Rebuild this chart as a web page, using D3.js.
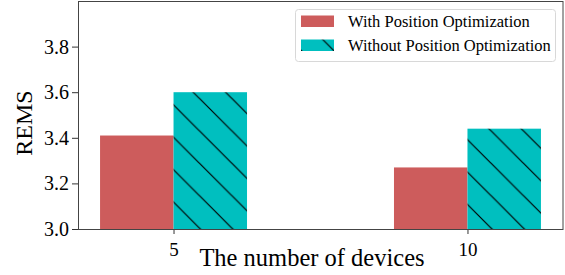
<!DOCTYPE html>
<html>
<head>
<meta charset="utf-8">
<script src="https://cdn.jsdelivr.net/npm/d3@7"></script>
<style>
    body { margin: 0; background: #fff; }
    svg text { font-family: 'Liberation Serif', 'Times New Roman', serif; fill: #000; }
</style>
</head>
<body>
<div id="wrapper"></div>
<script>
const categories = ["5", "10"];
const seriesNames = ["With Position Optimization", "Without Position Optimization"];
const withOpt = [3.41, 3.27];
const withoutOpt = [3.60, 3.44];
const yTicks = [3.0, 3.2, 3.4, 3.6, 3.8];

function drawBarChart() {
    const dimensions = {
        width: 565,
        height: 275,
        margin: { top: 1, right: 2, bottom: 46, left: 78 }
    };
    dimensions.boundedWidth = dimensions.width - dimensions.margin.left - dimensions.margin.right;
    dimensions.boundedHeight = dimensions.height - dimensions.margin.top - dimensions.margin.bottom;

    const wrapper = d3.select("#wrapper")
        .append("svg")
        .attr("width", dimensions.width)
        .attr("height", dimensions.height);

    // hatch "\" pattern, anchored to page coords like matplotlib
    const P = 32.4;
    const pat = wrapper.append("defs").append("pattern")
        .attr("id", "hatch")
        .attr("patternUnits", "userSpaceOnUse")
        .attr("x", 24)
        .attr("y", 0)
        .attr("width", P)
        .attr("height", P);
    pat.append("rect").attr("width", P).attr("height", P).attr("fill", "#00bfbf");
    pat.append("path")
        .attr("d", `M-2,-2 L${P + 2},${P + 2} M${P - 2},-2 L${P + 2},2 M-2,${P - 2} L2,${P + 2}`)
        .attr("stroke", "#000")
        .attr("stroke-width", 1.2);

    const bounds = wrapper.append("g")
        .attr("transform", `translate(${dimensions.margin.left},${dimensions.margin.top})`);

    const barW = 0.25;
    const xScale = d3.scaleLinear()
        .domain([-0.325, 1.325])
        .range([0, dimensions.boundedWidth]);
    const yScale = d3.scaleLinear()
        .domain([3.0, 4.0])
        .range([dimensions.boundedHeight, 0]);

    const series = [
        { name: seriesNames[0], values: withOpt, offset: -barW, fill: "#cd5c5c" },
        { name: seriesNames[1], values: withoutOpt, offset: 0, fill: "url(#hatch)" }
    ];

    series.forEach(s => {
        bounds.selectAll(null)
            .data(s.values)
            .join("rect")
            .attr("x", (d, i) => xScale(i + s.offset))
            .attr("width", xScale(barW) - xScale(0))
            .attr("y", d => yScale(d))
            .attr("height", d => yScale(3.0) - yScale(d))
            .attr("fill", s.fill);
    });

    // axes
    const yAxis = d3.axisLeft(yScale)
        .tickValues(yTicks)
        .tickFormat(d3.format(".1f"))
        .tickSize(6)
        .tickPadding(3);
    const yG = bounds.append("g").call(yAxis)
        .attr("font-family", "Liberation Serif")
        .attr("font-size", 20);
    yG.select(".domain").remove();
    yG.selectAll("line").attr("stroke", "#333");

    const xAxis = d3.axisBottom(xScale)
        .tickValues([0, 1])
        .tickFormat((d, i) => categories[i])
        .tickSize(5)
        .tickPadding(9);
    const xG = bounds.append("g")
        .attr("transform", `translate(0,${dimensions.boundedHeight})`)
        .call(xAxis)
        .attr("font-family", "Liberation Serif")
        .attr("font-size", 19);
    xG.select(".domain").remove();
    xG.selectAll("line").attr("stroke", "#333");

    // frame
    bounds.append("rect")
        .attr("x", 0.5)
        .attr("y", 0.5)
        .attr("width", dimensions.boundedWidth - 0.5)
        .attr("height", dimensions.boundedHeight)
        .attr("fill", "none")
        .attr("stroke", "#444")
        .attr("stroke-width", 1);

    // axis labels
    wrapper.append("text")
        .attr("x", 312)
        .attr("y", 266)
        .attr("text-anchor", "middle")
        .attr("font-size", 24.5)
        .text("The number of devices");

    wrapper.append("text")
        .attr("transform", "translate(32,123) rotate(-90)")
        .attr("text-anchor", "middle")
        .attr("font-size", 24)
        .text("REMS");

    // legend
    const legend = wrapper.append("g");
    legend.append("rect")
        .attr("x", 295.5)
        .attr("y", 9.5)
        .attr("width", 260)
        .attr("height", 52)
        .attr("rx", 3)
        .attr("fill", "#fff")
        .attr("stroke", "#d8d8d8");
    series.forEach((s, i) => {
        legend.append("rect")
            .attr("x", 301)
            .attr("y", 15.5 + i * 24)
            .attr("width", 33)
            .attr("height", 11.5)
            .attr("fill", s.fill);
        legend.append("text")
            .attr("x", 348)
            .attr("y", 27 + i * 24)
            .attr("font-size", 16.5)
            .text(s.name);
    });
}
drawBarChart();
</script>
</body>
</html>
